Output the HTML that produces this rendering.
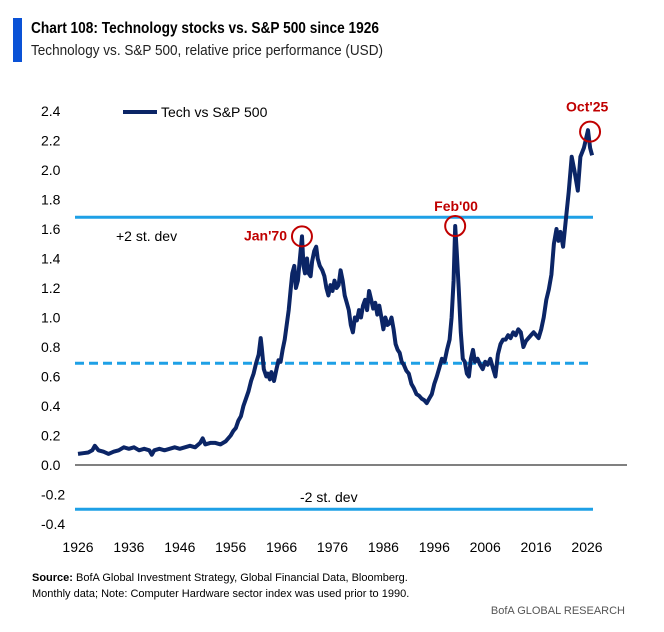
<!DOCTYPE html>
<html><head><meta charset="utf-8"><style>
body{margin:0;width:664px;height:632px;background:#fff;font-family:"Liberation Sans",sans-serif;overflow:hidden}
</style></head><body>
<svg width="664" height="632" style="position:absolute;left:0;top:0">
<rect x="13" y="18" width="9" height="44" fill="#0a52d6"/>
<text x="31" y="33" font-size="16" font-weight="bold" fill="#000" textLength="348" lengthAdjust="spacingAndGlyphs">Chart 108: Technology stocks vs. S&amp;P 500 since 1926</text>
<text x="31" y="55" font-size="15" fill="#222" textLength="352" lengthAdjust="spacingAndGlyphs">Technology vs. S&amp;P 500, relative price performance (USD)</text>
<g id="yt" font-size="14" fill="#000"></g>
<g id="xt" font-size="14" fill="#000"></g>
<g id="plot"></g>
<line x1="123" y1="112" x2="157" y2="112" stroke="#0b2566" stroke-width="4"/>
<text x="161" y="117" font-size="14">Tech vs S&amp;P 500</text>
<text x="116" y="241" font-size="14">+2 st. dev</text>
<text x="300" y="502" font-size="14">-2 st. dev</text>
<text x="32" y="581" font-size="11"><tspan font-weight="bold">Source:</tspan> BofA Global Investment Strategy, Global Financial Data, Bloomberg.</text>
<text x="32" y="597" font-size="11">Monthly data; Note: Computer Hardware sector index was used prior to 1990.</text>
<text x="625" y="614" font-size="11" fill="#555" text-anchor="end">BofA GLOBAL RESEARCH</text>
</svg>
<script>
const years=[
1926,1927,1928,1928.8,1929.3,1930,1931,1932,1933,1934,1935,1936,1937,1938,1939,1940,1940.5,1941,1942,1943,1944,1945,1946,1947,1948,1949,
1950,1950.5,1951,1952,1953,1954,1955,1956,1956.5,1957,1957.5,1958,1958.5,1959,1959.5,
1960,1960.5,1961,1961.5,1961.9,1962.1,1962.5,1963,1963.3,1963.7,1964,1964.5,1965,1965.4,1965.8,1966.2,1966.6,1967,1967.4,1967.8,1968.1,1968.5,1968.8,1969.2,1969.6,
1970,1970.3,1970.6,1971,1971.3,1971.7,1972,1972.4,1972.8,1973.1,1973.5,1974,1974.4,1974.8,1975.2,1975.6,1976,1976.4,1976.8,1977.2,1977.6,1978,1978.4,1978.8,1979.2,1979.6,
1980,1980.4,1980.8,1981.2,1981.6,1982,1982.4,1982.8,1983.2,1983.6,1984,1984.4,1984.8,1985.2,1985.6,1986,1986.4,1986.8,1987.2,1987.6,1988,1988.4,1988.8,1989.2,1989.6,
1990,1990.5,1991,1991.5,1992,1992.5,1993,1993.5,1994,1994.5,1995,1995.5,1996,1996.5,1997,1997.5,1998,1998.5,1999,1999.4,1999.8,
2000.1,2000.4,2000.8,2001.2,2001.6,2002,2002.4,2002.8,2003.2,2003.6,2004,2004.5,2005,2005.5,2006,2006.5,2007,2007.5,2008,2008.5,2009,2009.5,
2010,2010.5,2011,2011.5,2012,2012.5,2013,2013.5,2014,2014.5,2015,2015.5,2016,2016.5,2017,2017.5,2018,2018.5,2019,2019.5,
2020,2020.4,2020.8,2021.3,2021.9,2022.4,2023,2023.5,2024.2,2024.7,2025.4,2026.2,2026.6,2027];
const values=[
0.075,0.08,0.085,0.10,0.13,0.10,0.09,0.075,0.09,0.10,0.12,0.11,0.12,0.10,0.11,0.10,0.07,0.10,0.11,0.10,0.11,0.12,0.11,0.12,0.13,0.12,
0.15,0.18,0.14,0.15,0.15,0.14,0.16,0.20,0.23,0.25,0.30,0.33,0.40,0.45,0.50,
0.57,0.62,0.69,0.75,0.86,0.80,0.65,0.60,0.62,0.58,0.63,0.57,0.65,0.71,0.70,0.78,0.85,0.95,1.05,1.20,1.30,1.35,1.20,1.25,1.40,
1.55,1.35,1.30,1.40,1.30,1.28,1.38,1.45,1.48,1.40,1.35,1.32,1.28,1.20,1.15,1.22,1.18,1.25,1.20,1.22,1.32,1.25,1.15,1.10,1.05,0.95,
0.90,1.00,0.98,1.05,1.00,1.08,1.12,1.05,1.18,1.12,1.06,1.10,1.02,1.08,1.00,0.92,1.00,0.95,0.96,1.00,0.92,0.82,0.78,0.76,0.70,
0.68,0.64,0.62,0.55,0.52,0.48,0.47,0.45,0.44,0.42,0.45,0.48,0.55,0.60,0.66,0.72,0.70,0.78,0.85,1.00,1.25,
1.62,1.45,1.20,0.90,0.72,0.70,0.62,0.60,0.72,0.78,0.70,0.72,0.68,0.65,0.70,0.68,0.72,0.66,0.60,0.75,0.82,0.85,
0.85,0.88,0.86,0.90,0.88,0.92,0.90,0.80,0.84,0.86,0.88,0.90,0.88,0.86,0.92,1.00,1.12,1.19,1.29,1.50,
1.60,1.52,1.58,1.48,1.68,1.85,2.09,2.00,1.86,2.09,2.15,2.27,2.15,2.10];
const yTicks=[2.4,2.2,2.0,1.8,1.6,1.4,1.2,1.0,0.8,0.6,0.4,0.2,0.0,-0.2,-0.4];
const xTicks=[1926,1936,1946,1956,1966,1976,1986,1996,2006,2016,2026];
const bands=[1.68,0.69,-0.30];
const notes=[{t:"Jan'70",yr:1970,v:1.55,dx:-58,dy:4},{t:"Feb'00",yr:2000.1,v:1.62,dx:-21,dy:-15},{t:"Oct'25",yr:2026.6,v:2.26,dx:-24,dy:-20}];
const NS='http://www.w3.org/2000/svg';
const X=y=>78+(y-1926)*5.09, Y=v=>465-v*147.5;
function mk(tag,at,parent){const e=document.createElementNS(NS,tag);for(const k in at)e.setAttribute(k,at[k]);parent.appendChild(e);return e;}
const yt=document.getElementById('yt'),xt=document.getElementById('xt'),plot=document.getElementById('plot');
yTicks.forEach(v=>{const t=mk('text',{x:41,y:Y(v)+5},yt);t.textContent=v.toFixed(1);

});
xTicks.forEach(y=>{const t=mk('text',{x:X(y),y:552,'text-anchor':'middle'},xt);t.textContent=y;

});
const ax=mk('line',{x1:75,x2:627,y1:Y(0),y2:Y(0),stroke:'#000','stroke-width':1},plot);


bands.forEach((b,i)=>{const l=mk('line',{x1:75,x2:593,y1:Y(b),y2:Y(b),stroke:'#1ea0e6','stroke-width':3},plot);
if(i==1)l.setAttribute('stroke-dasharray','9 5');

});
const n=Math.min(years.length,values.length);
const pts=[];for(let i=0;i<n;i++)pts.push(X(years[i]).toFixed(1)+','+Y(values[i]).toFixed(1));
const p=mk('polyline',{points:pts.join(' '),fill:'none',stroke:'#0b2566','stroke-width':4,'stroke-linejoin':'round'},plot);


notes.forEach(n=>{const cx=X(n.yr),cy=Y(n.v);
const c=mk('circle',{cx:cx,cy:cy,r:10,fill:'none',stroke:'#c00000','stroke-width':2},plot);


const t=mk('text',{x:cx+n.dx,y:cy+n.dy,'font-size':14,'font-weight':'bold',fill:'#c00000'},plot);t.textContent=n.t;

});
</script>
</body></html>
